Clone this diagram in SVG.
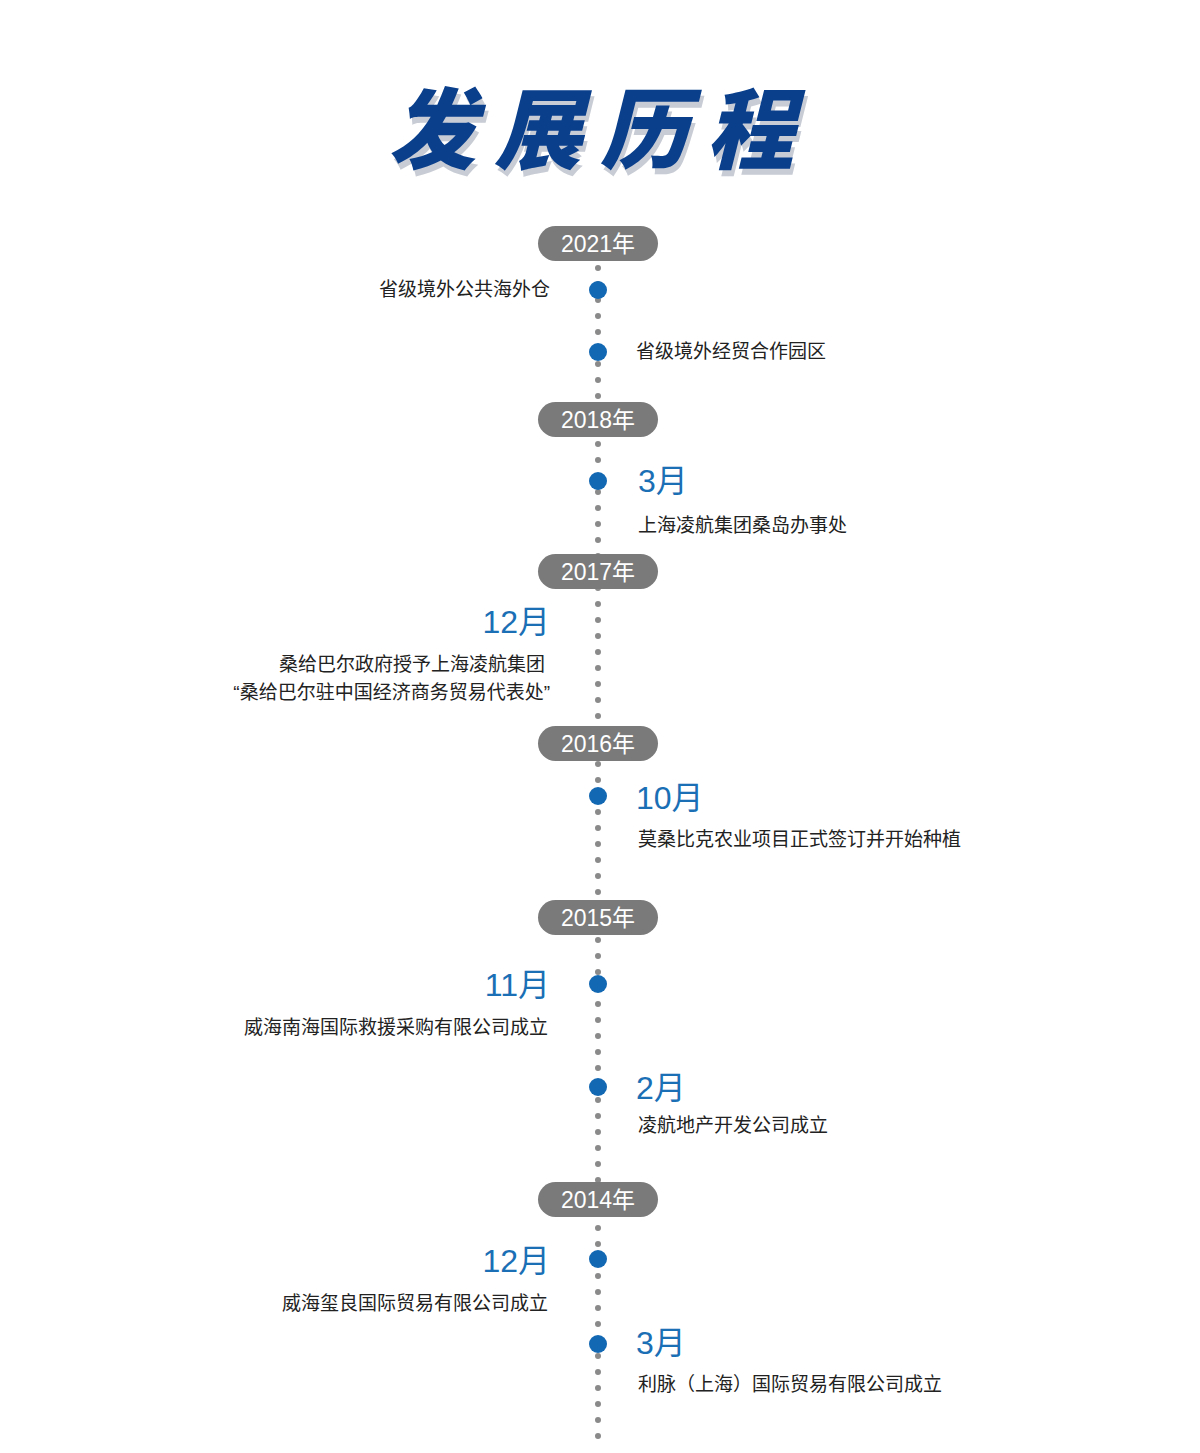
<svg xmlns="http://www.w3.org/2000/svg" width="1200" height="1453" viewBox="0 0 1200 1453">
<style>
.t{font-family:"Liberation Sans","Noto Sans CJK SC",sans-serif;font-size:19px;fill:#222}
.m{font-family:"Liberation Sans","Noto Sans CJK SC",sans-serif;font-size:32px;fill:#1a6fb5}
.y{font-family:"Liberation Sans","Noto Sans CJK SC",sans-serif;font-size:23px;fill:#fff;text-anchor:middle}
.p{fill:#7a7a7a}
.d{fill:#1368b3}
.ttl{font-family:"Noto Sans CJK SC",sans-serif;font-weight:900;font-size:88px}
</style>
<rect width="1200" height="1453" fill="#fff"/>
<g id="title" transform="translate(600,162) skewX(-14)">
<text class="ttl" x="4" y="6" text-anchor="middle" fill="#c8ccd4" letter-spacing="18">发展历程</text>
<text class="ttl" x="0" y="0" text-anchor="middle" fill="#0a3f8c" letter-spacing="18">发展历程</text>
</g>
<g id="connectors">
<line x1="598" y1="268" x2="598" y2="1440" stroke="#8a8a8a" stroke-width="6" stroke-linecap="round" stroke-dasharray="0 16"/>
</g>
<g id="y2021"><rect class="p" x="538" y="226" width="120" height="35" rx="17.5"/><text class="y" x="598" y="252">2021年</text></g>
<g id="e1"><circle class="d" cx="598" cy="290" r="9"/><text class="t" x="550" y="296" text-anchor="end">省级境外公共海外仓</text></g>
<g id="e2"><circle class="d" cx="598" cy="352" r="9"/><text class="t" x="636" y="358">省级境外经贸合作园区</text></g>
<g id="y2018"><rect class="p" x="538" y="402" width="120" height="35" rx="17.5"/><text class="y" x="598" y="428">2018年</text></g>
<g id="e3"><circle class="d" cx="598" cy="481" r="9"/><text class="m" x="638" y="492">3月</text><text class="t" x="638" y="532">上海凌航集团桑岛办事处</text></g>
<g id="y2017"><rect class="p" x="538" y="554" width="120" height="35" rx="17.5"/><text class="y" x="598" y="580">2017年</text></g>
<g id="e4"><text class="m" x="550" y="633" text-anchor="end">12月</text><text class="t" x="545" y="671" text-anchor="end">桑给巴尔政府授予上海凌航集团</text><text class="t" x="550" y="699" text-anchor="end">“桑给巴尔驻中国经济商务贸易代表处”</text></g>
<g id="y2016"><rect class="p" x="538" y="726" width="120" height="35" rx="17.5"/><text class="y" x="598" y="752">2016年</text></g>
<g id="e5"><circle class="d" cx="598" cy="796" r="9"/><text class="m" x="636" y="809">10月</text><text class="t" x="638" y="846">莫桑比克农业项目正式签订并开始种植</text></g>
<g id="y2015"><rect class="p" x="538" y="900" width="120" height="35" rx="17.5"/><text class="y" x="598" y="926">2015年</text></g>
<g id="e6"><circle class="d" cx="598" cy="984" r="9"/><text class="m" x="550" y="996" text-anchor="end">11月</text><text class="t" x="548" y="1034" text-anchor="end">威海南海国际救援采购有限公司成立</text></g>
<g id="e7"><circle class="d" cx="598" cy="1087" r="9"/><text class="m" x="636" y="1099">2月</text><text class="t" x="638" y="1132">凌航地产开发公司成立</text></g>
<g id="y2014"><rect class="p" x="538" y="1182" width="120" height="35" rx="17.5"/><text class="y" x="598" y="1208">2014年</text></g>
<g id="e8"><circle class="d" cx="598" cy="1259" r="9"/><text class="m" x="550" y="1272" text-anchor="end">12月</text><text class="t" x="548" y="1310" text-anchor="end">威海玺良国际贸易有限公司成立</text></g>
<g id="e9"><circle class="d" cx="598" cy="1344" r="9"/><text class="m" x="636" y="1354">3月</text><text class="t" x="638" y="1391">利脉（上海）国际贸易有限公司成立</text></g>
</svg>
